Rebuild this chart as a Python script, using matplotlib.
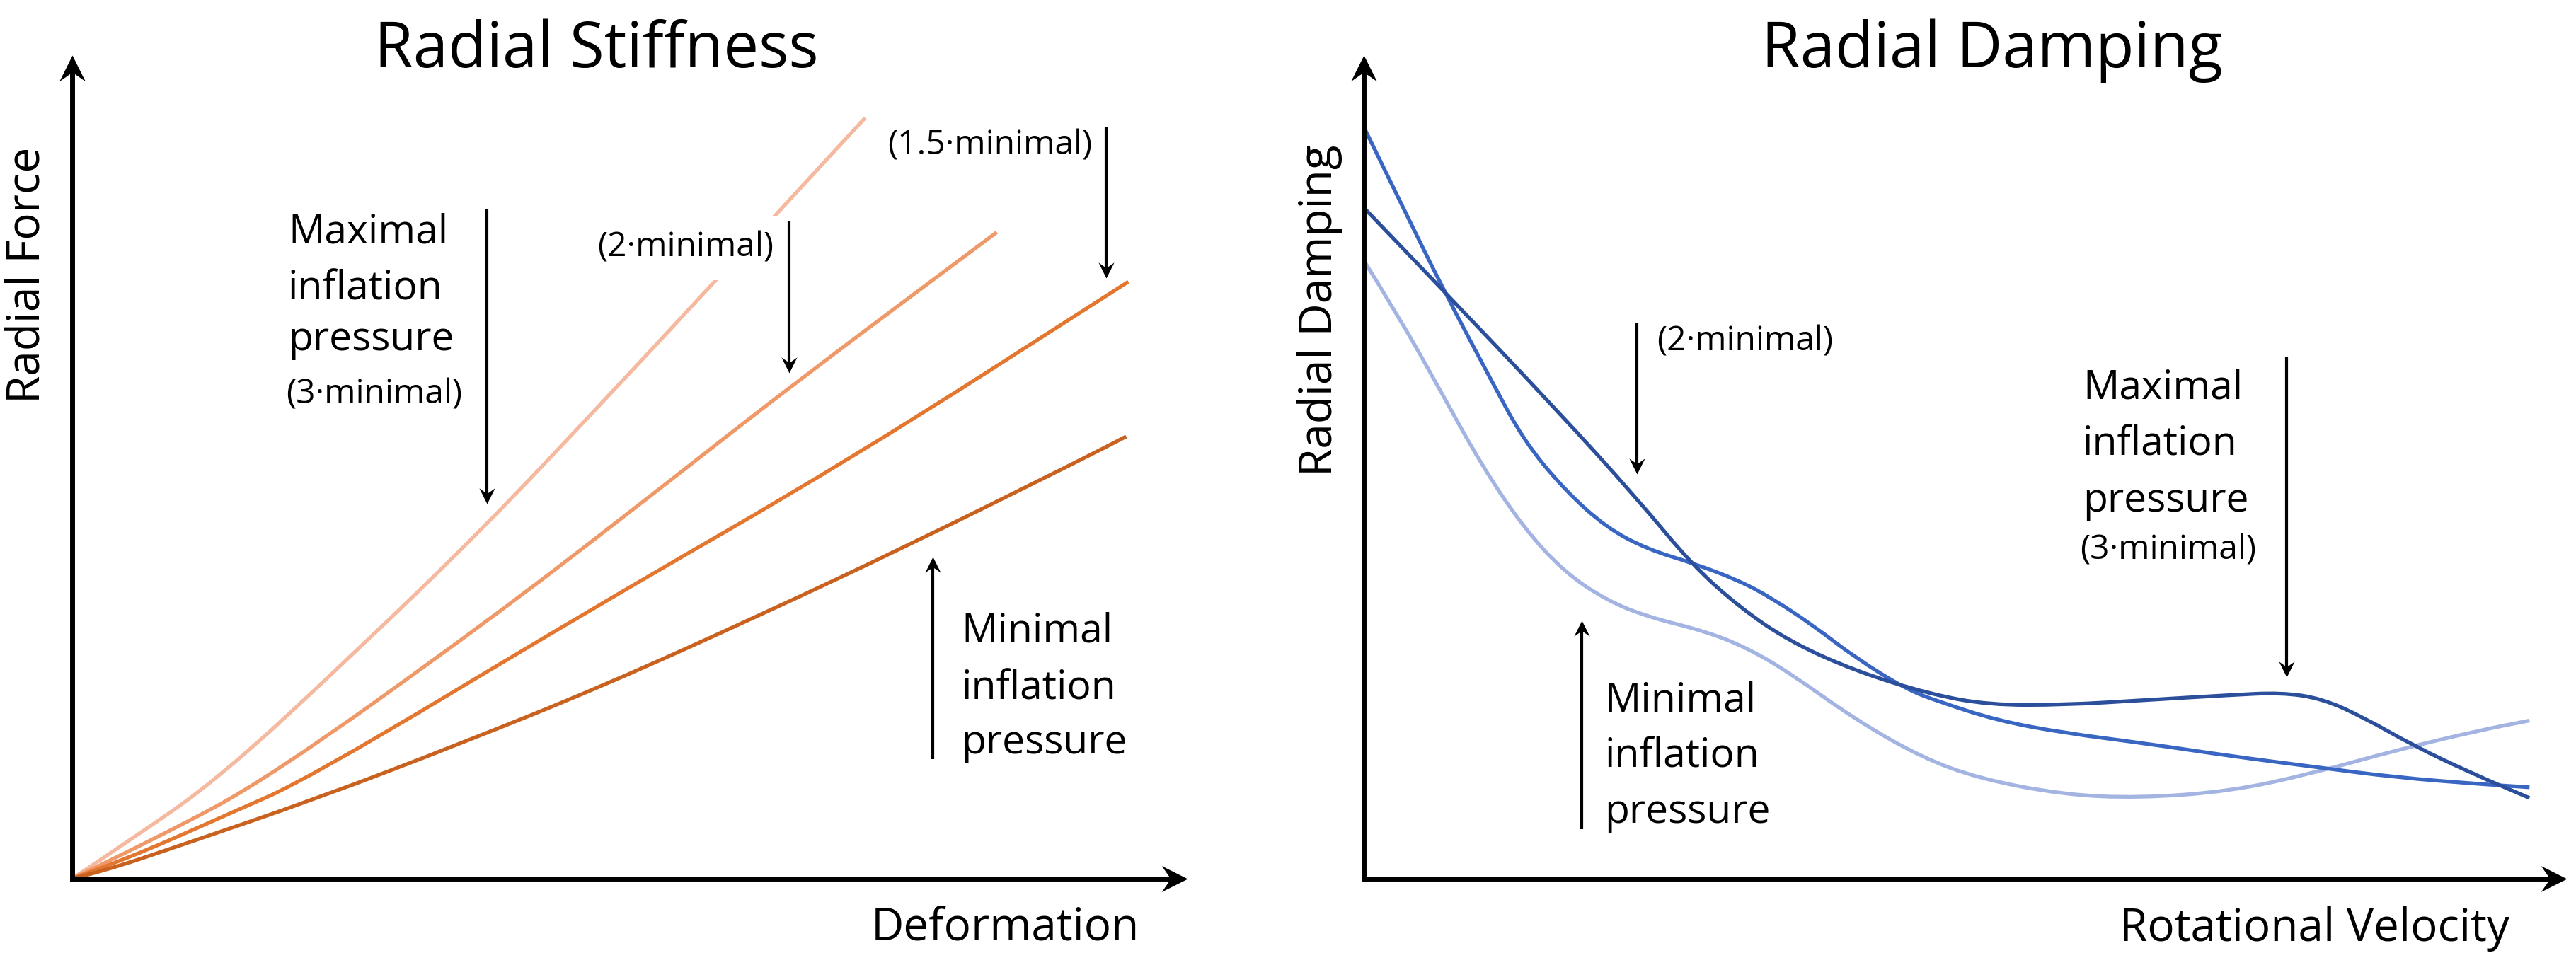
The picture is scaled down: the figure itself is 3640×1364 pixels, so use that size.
import matplotlib
matplotlib.use('Agg')
import matplotlib.pyplot as plt
from matplotlib.path import Path
from matplotlib.patches import PathPatch

plt.rcParams['font.family'] = ['Open Sans', 'DejaVu Sans']

# values are read off the picture, as fractions of each drawn axis
# Radial Stiffness: force vs deformation
stiff_3min_x = [0, 0.05, 0.132, 0.25, 0.367, 0.48, 0.587, 0.634, 0.711]
stiff_3min_y = [0, 0.045, 0.122, 0.27, 0.423, 0.585, 0.741, 0.811, 0.924]
stiff_2min_x = [0, 0.08, 0.176, 0.37, 0.5, 0.643, 0.829]
stiff_2min_y = [0, 0.052, 0.122, 0.31, 0.445, 0.597, 0.785]
stiff_15min_x = [0, 0.051, 0.136, 0.213, 0.466, 0.698, 0.947]
stiff_15min_y = [0, 0.025, 0.076, 0.122, 0.328, 0.509, 0.725]
stiff_min_x = [0, 0.03, 0.094, 0.221, 0.35, 0.476, 0.62, 0.747, 0.905, 0.945]
stiff_min_y = [0, 0.010, 0.039, 0.098, 0.165, 0.234, 0.322, 0.403, 0.509, 0.537]

# Radial Damping: damping vs rotational velocity
damp_min_x = [0, 0.029, 0.064, 0.098, 0.133, 0.167, 0.202, 0.236, 0.285, 0.319, 0.354,
              0.409, 0.464, 0.513, 0.582, 0.644, 0.720, 0.789, 0.858, 0.927, 0.969]
damp_min_y = [0.751, 0.683, 0.592, 0.502, 0.426, 0.372, 0.338, 0.318, 0.300, 0.280, 0.250,
              0.193, 0.147, 0.121, 0.102, 0.098, 0.106, 0.128, 0.156, 0.180, 0.192]
damp_2min_x = [0, 0.029, 0.067, 0.105, 0.133, 0.167, 0.202, 0.236, 0.274, 0.312, 0.340, 0.375,
               0.409, 0.451, 0.478, 0.527, 0.582, 0.651, 0.720, 0.789, 0.858, 0.927, 0.969]
damp_2min_y = [0.913, 0.826, 0.713, 0.608, 0.532, 0.472, 0.426, 0.400, 0.383, 0.362, 0.340, 0.306,
               0.268, 0.230, 0.215, 0.192, 0.177, 0.164, 0.149, 0.136, 0.123, 0.115, 0.111]
damp_3min_x = [0, 0.067, 0.1606, 0.227, 0.273, 0.312, 0.354, 0.409, 0.471, 0.520, 0.582,
               0.651, 0.720, 0.762, 0.796, 0.831, 0.872, 0.921, 0.969]
damp_3min_y = [0.815, 0.713, 0.569, 0.462, 0.381, 0.330, 0.288, 0.252, 0.224, 0.211, 0.211,
               0.217, 0.223, 0.226, 0.219, 0.196, 0.162, 0.128, 0.098]

orange = ['#f5b9a0', '#ef9868', '#e4772f', '#c9621f']
blue = ['#a3b4e2', '#3a66c3', '#2c4f9c']

W, H = 3640, 1364
fig = plt.figure(figsize=(W / 100, H / 100), dpi=100)
ax1 = fig.add_axes([102 / W, 122 / H, 1576 / W, 1164 / H])
ax2 = fig.add_axes([1927 / W, 122 / H, 1700 / W, 1164 / H])


def head(direction):
    # concave arrow head, tip at the origin of the path
    pts = {'right': [(0, 0), (-1, 0.5), (-0.65, 0), (-1, -0.5), (0, 0)],
           'up': [(0, 0), (0.5, -1), (0, -0.65), (-0.5, -1), (0, 0)],
           'down': [(0, 0), (0.5, 1), (0, 0.65), (-0.5, 1), (0, 0)]}[direction]
    return Path(pts, [Path.MOVETO, Path.LINETO, Path.LINETO, Path.LINETO, Path.CLOSEPOLY])


def curve(ax, xs, ys, color):
    # smooth stroke through the read points (points used as quadratic bezier controls)
    verts = [(xs[0], ys[0])]
    codes = [Path.MOVETO]
    for i in range(1, len(xs) - 1):
        verts += [(xs[i], ys[i]), ((xs[i] + xs[i + 1]) / 2, (ys[i] + ys[i + 1]) / 2)]
        codes += [Path.CURVE3, Path.CURVE3]
    verts.append((xs[-1], ys[-1]))
    codes.append(Path.LINETO)
    ax.add_patch(PathPatch(Path(verts, codes), fill=False, ec=color, lw=3.8,
                           capstyle='butt', joinstyle='round', zorder=2))


def frame(ax, w):
    ax.set_xlim(0, 1)
    ax.set_ylim(0, 1)
    ax.axis('off')
    ax.plot([0, 0, 1 - 20 / w], [1 - 20 / 1164, 0, 0], color='black', lw=5,
            solid_joinstyle='miter', solid_capstyle='butt', clip_on=False, zorder=6)
    ax.plot([1], [0], marker=head('right'), ms=53, mew=0, color='black', clip_on=False, zorder=6)
    ax.plot([0], [1], marker=head('up'), ms=53, mew=0, color='black', clip_on=False, zorder=6)


def pointer(ax, x, y0, y1):
    # thin vertical arrow from y0 to y1 (tip)
    ax.plot([x, x], [y0, y1 + (0.012 if y1 < y0 else -0.012)], color='black', lw=3,
            solid_capstyle='butt', zorder=5)
    ax.plot([x], [y1], marker=head('down' if y1 < y0 else 'up'), ms=32, mew=0,
            color='black', zorder=5)


def block(ax, x, lines, fs=41):
    for txt, y in lines:
        ax.text(x, y, txt, fontsize=fs, ha='left', va='baseline', zorder=4)


frame(ax1, 1576)
frame(ax2, 1700)

# left panel
for xs, ys, c in [(stiff_3min_x, stiff_3min_y, orange[0]), (stiff_2min_x, stiff_2min_y, orange[1]),
                  (stiff_15min_x, stiff_15min_y, orange[2]), (stiff_min_x, stiff_min_y, orange[3])]:
    curve(ax1, xs, ys, c)

ax1.text(0.47, 0.9854, 'Radial Stiffness', fontsize=64, ha='center', va='baseline')
ax1.text(-0.040, 0.733, 'Radial Force', fontsize=46, rotation=90, ha='center', va='center')
ax1.text(0.957, -0.0739, 'Deformation', fontsize=46, ha='right', va='baseline')

block(ax1, 0.1935, [('Maximal', 0.772), ('inflation', 0.7036), ('pressure', 0.6418)])
ax1.text(0.1916, 0.5773, '(3\u00b7minimal)', fontsize=34.5, ha='left', va='baseline')
pointer(ax1, 0.3718, 0.8136, 0.4553)

ax1.text(0.6288, 0.7552, '(2\u00b7minimal)', fontsize=34.5, ha='right', va='baseline', zorder=4,
         bbox=dict(boxstyle='square,pad=0.45', fc='white', ec='none'))
pointer(ax1, 0.6428, 0.798, 0.614)

ax1.text(0.9143, 0.8797, '(1.5\u00b7minimal)', fontsize=34.5, ha='right', va='baseline')
pointer(ax1, 0.927, 0.912, 0.729)

block(ax1, 0.797, [('Minimal', 0.287), ('inflation', 0.218), ('pressure', 0.152)])
pointer(ax1, 0.7716, 0.145, 0.391)

# right panel
for xs, ys, c in [(damp_min_x, damp_min_y, blue[0]), (damp_2min_x, damp_2min_y, blue[1]),
                  (damp_3min_x, damp_3min_y, blue[2])]:
    curve(ax2, xs, ys, c)

ax2.text(0.5224, 0.9854, 'Radial Damping', fontsize=64, ha='center', va='baseline')
ax2.text(-0.0365, 0.69, 'Radial Damping', fontsize=46, rotation=90, ha='center', va='center')
ax2.text(0.952, -0.0756, 'Rotational Velocity', fontsize=46, ha='right', va='baseline')

ax2.text(0.2435, 0.641, '(2\u00b7minimal)', fontsize=34.5, ha='left', va='baseline')
pointer(ax2, 0.227, 0.675, 0.491)

block(ax2, 0.5976, [('Maximal', 0.5833), ('inflation', 0.5146), ('pressure', 0.4459)])
ax2.text(0.5956, 0.3875, '(3\u00b7minimal)', fontsize=34.5, ha='left', va='baseline')
pointer(ax2, 0.767, 0.634, 0.245)

block(ax2, 0.200, [('Minimal', 0.2036), ('inflation', 0.1357), ('pressure', 0.0679)])
pointer(ax2, 0.181, 0.060, 0.3136)

fig.savefig('out.png', dpi=100, facecolor='white')
